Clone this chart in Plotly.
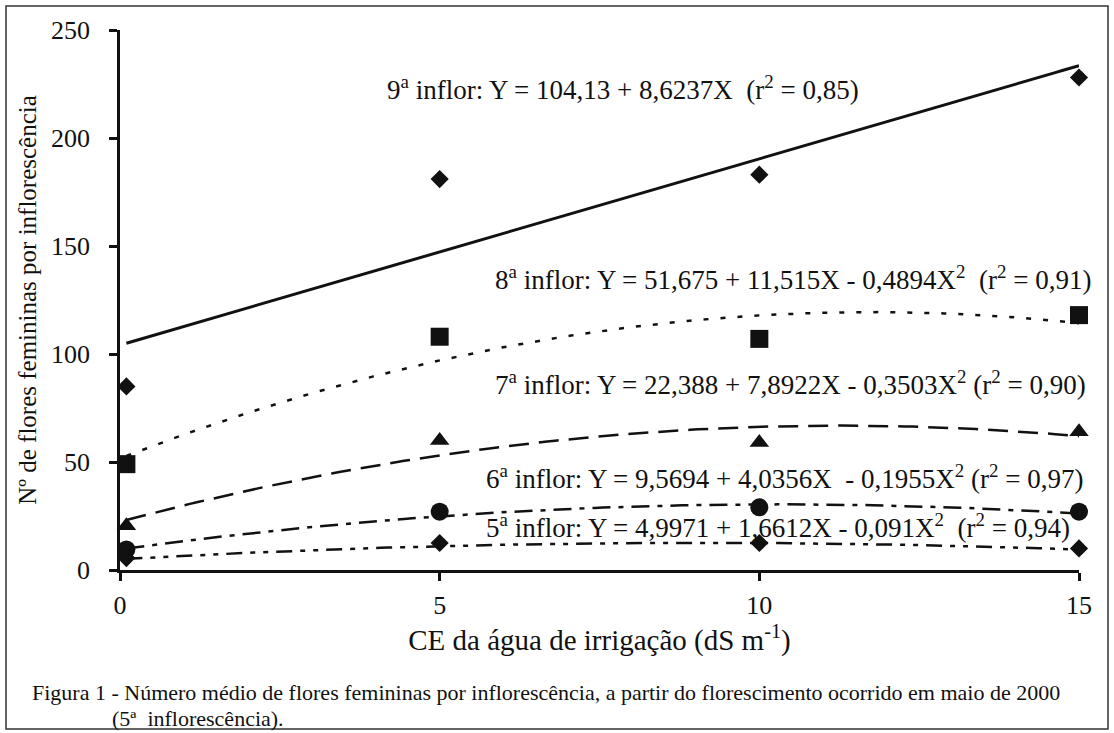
import plotly.graph_objects as go

# ---- data ----
ce_levels = [0.1, 5, 10, 15]
infl9 = [85, 181, 183, 228]
infl8 = [49, 108, 107, 118]
infl7 = [20.5, 60, 59, 64]
infl6 = [9.5, 27, 29, 27]
infl5 = [5.5, 12.5, 12.5, 10]

# regression coefficients printed on the chart (a + bX + cX^2)
coef9 = [104.13, 8.6237, 0.0]
coef8 = [51.675, 11.515, -0.4894]
coef7 = [22.388, 7.8922, -0.3503]
coef6 = [9.5694, 4.0356, -0.1955]
coef5 = [4.9971, 1.6612, -0.091]

eq_texts = [
    "9<sup>a</sup> inflor: Y = 104,13 + 8,6237X  (r<sup>2</sup> = 0,85)",
    "8<sup>a</sup> inflor: Y = 51,675 + 11,515X - 0,4894X<sup>2</sup>  (r<sup>2</sup> = 0,91)",
    "7<sup>a</sup> inflor: Y = 22,388 + 7,8922X - 0,3503X<sup>2</sup> (r<sup>2</sup> = 0,90)",
    "6<sup>a</sup> inflor: Y = 9,5694 + 4,0356X  - 0,1955X<sup>2</sup> (r<sup>2</sup> = 0,97)",
    "5<sup>a</sup> inflor: Y = 4,9971 + 1,6612X - 0,091X<sup>2</sup>  (r<sup>2</sup> = 0,94)",
]
x_ticks = [0, 5, 10, 15]
y_ticks = [0, 50, 100, 150, 200, 250]

FONT = "Liberation Serif"
INK = "#111111"

xs = [0.1 + i * (15 - 0.1) / 120 for i in range(121)]


def fit(c):
    return [c[0] + c[1] * x + c[2] * x * x for x in xs]


fig = go.Figure()

series = [
    (coef9, infl9, "solid", 3, "diamond", 14),
    (coef8, infl8, "5px,12px", 2.5, "square", 18),
    (coef7, infl7, "20px,10px", 2.5, "triangle-up", 17),
    (coef6, infl6, "18px,8px,5px,8px", 2.5, "circle", 18),
    (coef5, infl5, "16px,8px,5px,8px,5px,8px", 2.5, "diamond", 14),
]
for coef, vals, dash, lw, sym, ms in series:
    fig.add_trace(go.Scatter(x=xs, y=fit(coef), mode="lines",
                             line=dict(color=INK, width=lw, dash=dash),
                             showlegend=False, hoverinfo="skip", cliponaxis=False))
    fig.add_trace(go.Scatter(x=ce_levels, y=vals, mode="markers",
                             marker=dict(symbol=sym, size=ms, color=INK),
                             showlegend=False, cliponaxis=False))

eq_pos = [(4.15, 223), (5.84, 135), (5.84, 86.5), (5.70, 43), (5.70, 20.2)]
for (ex, ey), t in zip(eq_pos, eq_texts):
    fig.add_annotation(x=ex, y=ey, text=t, showarrow=False, xanchor="left",
                       yanchor="middle", font=dict(family=FONT, size=27, color=INK))

fig.update_xaxes(range=[0, 15], tickvals=x_ticks, ticktext=[str(v) for v in x_ticks],
                 showgrid=False, zeroline=False, showline=True, linecolor=INK, linewidth=2.5,
                 ticks="outside", ticklen=8, tickwidth=2.5, tickcolor=INK,
                 ticklabelstandoff=2,
                 tickfont=dict(family=FONT, size=26, color=INK),
                 title=dict(text="CE da água de irrigação (dS m<sup>-1</sup>)", standoff=4,
                            font=dict(family=FONT, size=29, color=INK)))
fig.update_yaxes(range=[0, 250], tickvals=y_ticks, ticktext=[str(v) for v in y_ticks],
                 showgrid=False, zeroline=False, showline=True, linecolor=INK, linewidth=2.5,
                 ticks="outside", ticklen=8, tickwidth=2.5, tickcolor=INK,
                 ticklabelstandoff=14,
                 tickfont=dict(family=FONT, size=26, color=INK),
                 title=dict(text="Nº de flores femininas por inflorescência", standoff=8,
                            font=dict(family=FONT, size=25, color=INK)))

# outer frame of the figure
fig.add_shape(type="rect", xref="paper", yref="paper",
              x0=(6 - 120) / 959, x1=(1108 - 120) / 959,
              y0=(570 - 729) / 540, y1=(570 - 6) / 540,
              line=dict(color="#333333", width=1.5), fillcolor="rgba(0,0,0,0)")

fig.add_annotation(xref="paper", yref="paper",
                   x=(30 - 120) / 959, y=(570 - 692) / 540,
                   text="Figura 1 - Número médio de flores femininas por inflorescência, a partir do florescimento ocorrido em maio de 2000",
                   showarrow=False, xanchor="left", yanchor="middle",
                   font=dict(family=FONT, size=22, color=INK))
fig.add_annotation(xref="paper", yref="paper",
                   x=(110 - 120) / 959, y=(570 - 718) / 540,
                   text="(5ª  inflorescência).",
                   showarrow=False, xanchor="left", yanchor="middle",
                   font=dict(family=FONT, size=22, color=INK))

fig.update_layout(width=1114, height=733, margin=dict(l=120, r=35, t=30, b=163),
                  paper_bgcolor="white", plot_bgcolor="white")

fig.write_html("out.html")
